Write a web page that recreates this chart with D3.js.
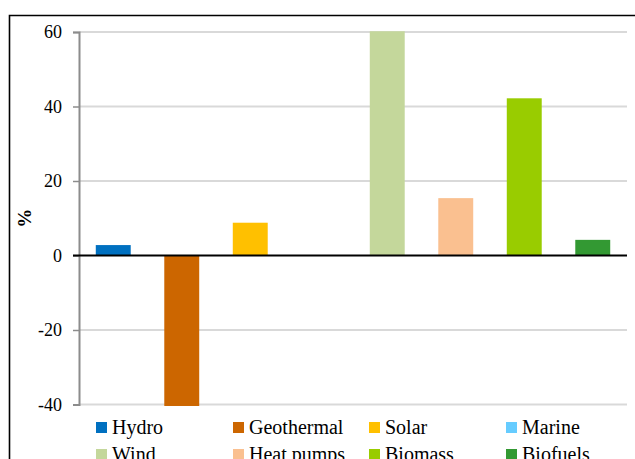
<!DOCTYPE html>
<html>
<head>
<meta charset="utf-8">
<script src="https://cdn.jsdelivr.net/npm/d3@7/dist/d3.min.js"></script>
<style>
  html, body { margin: 0; padding: 0; background: #fff; }
  svg { display: block; }
</style>
</head>
<body>
<svg id="chart" width="635" height="459"></svg>
<script>
// Change by technology, in percent
const categories = ["Hydro", "Geothermal", "Solar", "Marine", "Wind", "Heat pumps", "Biomass", "Biofuels"];
const values = [2.8, -40.4, 8.8, 0, 60.2, 15.4, 42.2, 4.2];
const colors = ["#0070C0", "#CC6600", "#FFC000", "#66CCFF", "#C4D79B", "#FAC090", "#99CC00", "#339933"];
const yTicks = [-40, -20, 0, 20, 40, 60];
const yLabel = "%";

const SERIF = "'Liberation Serif'";

const svg = d3.select("#chart");

// outer frame (runs past the right and bottom edges)
svg.append("path")
  .attr("d", "M9.5,470 V15.5 H650")
  .attr("fill", "none")
  .attr("stroke", "#000")
  .attr("stroke-width", 1.6);

const left = 79, right = 627;
const y = d3.scaleLinear().domain([-40, 60]).range([404.5, 32]);
const x = d3.scaleBand().domain(categories).range([left, right]).paddingInner(0.49).paddingOuter(0.245);

// gridlines
svg.append("g").selectAll("line")
  .data(yTicks.filter(d => d !== 0))
  .join("line")
  .attr("x1", left).attr("x2", right)
  .attr("y1", d => y(d)).attr("y2", d => y(d))
  .attr("stroke", "#d9d9d9").attr("stroke-width", 2);

// y axis, hyphen-minus for negatives
const yAxis = d3.axisLeft(y).tickValues(yTicks).tickSize(6).tickPadding(11).tickFormat(d => String(d));
const ga = svg.append("g").attr("transform", `translate(${left},0)`).call(yAxis);
ga.attr("font-family", SERIF).attr("font-size", 18);
ga.select(".domain").attr("stroke", "#8c8c8c").attr("stroke-width", 2);
ga.selectAll(".tick line").attr("stroke", "#8c8c8c").attr("stroke-width", 1.5);
ga.selectAll(".tick text")
  .style("font-family", SERIF).style("font-size", "18px").attr("fill", "#000");

// bars
svg.append("g").selectAll("rect")
  .data(categories)
  .join("rect")
  .attr("x", d => x(d))
  .attr("width", x.bandwidth())
  .attr("y", (d, i) => y(Math.max(0, values[i])))
  .attr("height", (d, i) => Math.abs(y(values[i]) - y(0)))
  .attr("fill", (d, i) => colors[i]);

// zero line
svg.append("line")
  .attr("x1", left - 6).attr("x2", right)
  .attr("y1", y(0)).attr("y2", y(0))
  .attr("stroke", "#000").attr("stroke-width", 2);

// axis title
svg.append("text")
  .attr("transform", `translate(31,${(y(20) + y(0)) / 2}) rotate(-90)`)
  .attr("text-anchor", "middle")
  .style("font-family", SERIF).style("font-size", "19px")
  .attr("font-weight", "bold")
  .text(yLabel);

// legend, four columns
const colX = [96, 233, 369, 506];
const rowY = [422, 449];
const lg = svg.append("g").selectAll("g")
  .data(categories)
  .join("g")
  .attr("transform", (d, i) => `translate(${colX[i % 4]},${rowY[Math.floor(i / 4)]})`);
lg.append("rect").attr("width", 11).attr("height", 11).attr("fill", (d, i) => colors[i]);
lg.append("text").attr("x", 16).attr("y", 12)
  .style("font-family", SERIF).style("font-size", "20px")
  .text(d => d);
</script>
</body>
</html>
